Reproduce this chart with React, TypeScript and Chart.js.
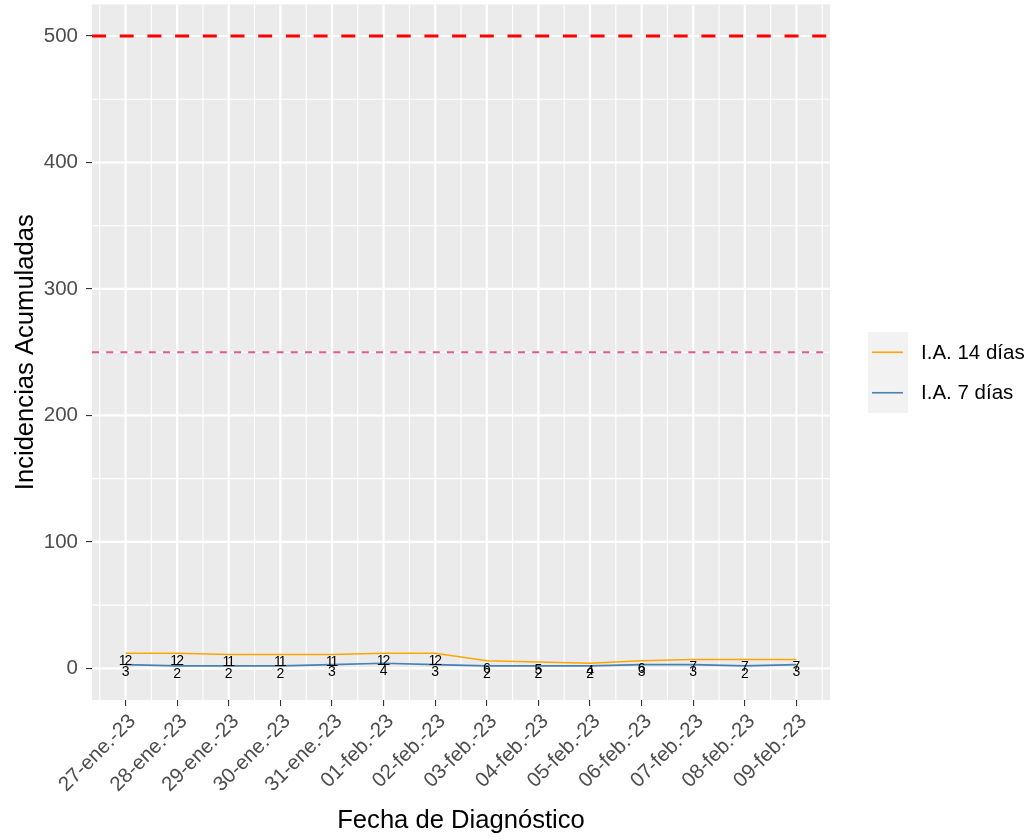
import { useEffect, useRef } from "react";
import { Chart, registerables } from "chart.js";

Chart.register(...registerables);

const dates = [
  "27-ene.-23", "28-ene.-23", "29-ene.-23", "30-ene.-23", "31-ene.-23",
  "01-feb.-23", "02-feb.-23", "03-feb.-23", "04-feb.-23", "05-feb.-23",
  "06-feb.-23", "07-feb.-23", "08-feb.-23", "09-feb.-23",
];
const ia14 = [12, 12, 11, 11, 11, 12, 12, 6, 5, 4, 6, 7, 7, 7];
const ia7 = [3, 2, 2, 2, 3, 4, 3, 2, 2, 2, 3, 3, 2, 3];
const yTicks = [0, 100, 200, 300, 400, 500];
const yMinor = [50, 150, 250, 350, 450];
const refHigh = 500;
const refMid = 250;
const seriesNames = ["I.A. 14 días", "I.A. 7 días"];
const seriesColors = ["#FFA500", "#4682B4"];

const FONT = "'Liberation Sans', Arial, sans-serif";

export default function App() {
  const ref = useRef<HTMLCanvasElement | null>(null);

  useEffect(() => {
    const canvas = ref.current;
    if (!canvas) return;

    const panelPlugin = {
      id: "panel",
      beforeDraw(chart: any) {
        const { ctx, chartArea: a, scales } = chart;
        const xs = scales.x;
        const ys = scales.y;
        ctx.save();
        ctx.fillStyle = "#EBEBEB";
        ctx.fillRect(a.left, a.top, a.right - a.left, a.bottom - a.top);
        ctx.strokeStyle = "#FFFFFF";
        // minor grid
        ctx.lineWidth = 1.1;
        for (let i = -1; i < dates.length; i++) {
          const px = xs.getPixelForValue(i + 0.5);
          if (px < a.left || px > a.right) continue;
          ctx.beginPath();
          ctx.moveTo(px, a.top);
          ctx.lineTo(px, a.bottom);
          ctx.stroke();
        }
        for (const v of yMinor) {
          const py = ys.getPixelForValue(v);
          ctx.beginPath();
          ctx.moveTo(a.left, py);
          ctx.lineTo(a.right, py);
          ctx.stroke();
        }
        // major grid
        ctx.lineWidth = 2.2;
        for (let i = 0; i < dates.length; i++) {
          const px = xs.getPixelForValue(i);
          ctx.beginPath();
          ctx.moveTo(px, a.top);
          ctx.lineTo(px, a.bottom);
          ctx.stroke();
        }
        for (const v of yTicks) {
          const py = ys.getPixelForValue(v);
          ctx.beginPath();
          ctx.moveTo(a.left, py);
          ctx.lineTo(a.right, py);
          ctx.stroke();
        }
        // reference lines
        let py = ys.getPixelForValue(refMid);
        ctx.strokeStyle = "#DE5A96";
        ctx.lineWidth = 2;
        ctx.setLineDash([7, 7.2]);
        ctx.beginPath();
        ctx.moveTo(a.left, py);
        ctx.lineTo(a.right, py);
        ctx.stroke();
        py = ys.getPixelForValue(refHigh);
        ctx.strokeStyle = "#FF0000";
        ctx.lineWidth = 3;
        ctx.setLineDash([14, 13.7]);
        ctx.beginPath();
        ctx.moveTo(a.left, py);
        ctx.lineTo(a.right, py);
        ctx.stroke();
        ctx.restore();
      },
      afterDatasetsDraw(chart: any) {
        const { ctx, scales } = chart;
        const xs = scales.x;
        const ys = scales.y;
        ctx.save();
        ctx.fillStyle = "#000000";
        ctx.font = `14px ${FONT}`;
        ctx.textAlign = "center";
        ctx.textBaseline = "middle";
        (ctx as any).letterSpacing = "-2px";
        const sets = [ia14, ia7];
        for (const arr of sets) {
          arr.forEach((v, i) => {
            const px = xs.getPixelForValue(i);
            const py = ys.getPixelForValue(v);
            ctx.fillText(String(v), px - 1, py + 8);
          });
        }
        ctx.restore();
      },
      afterDraw(chart: any) {
        const { ctx, chartArea: a } = chart;
        ctx.save();
        ctx.fillStyle = "#000000";
        ctx.font = `25.6px ${FONT}`;
        ctx.textAlign = "center";
        ctx.textBaseline = "alphabetic";
        ctx.fillText("Fecha de Diagnóstico", (a.left + a.right) / 2, 828);
        ctx.save();
        ctx.translate(33, (a.top + a.bottom) / 2);
        ctx.rotate(-Math.PI / 2);
        ctx.fillText("Incidencias Acumuladas", 0, 0);
        ctx.restore();

        // legend
        const lx = 868;
        const ly = 332;
        const kh = 40.5;
        ctx.fillStyle = "#F2F2F2";
        ctx.fillRect(lx, ly, 40, kh * 2);
        ctx.font = `20.5px ${FONT}`;
        ctx.textAlign = "left";
        ctx.textBaseline = "middle";
        seriesNames.forEach((name, k) => {
          const cy = ly + kh * k + kh / 2;
          ctx.strokeStyle = seriesColors[k];
          ctx.lineWidth = 1.6;
          ctx.beginPath();
          ctx.moveTo(lx + 4, cy);
          ctx.lineTo(lx + 35, cy);
          ctx.stroke();
          ctx.fillStyle = "#000000";
          ctx.fillText(name, 921, cy + 1);
        });
        ctx.restore();
      },
    };

    const chart = new Chart(canvas, {
      type: "line",
      data: {
        datasets: [
          {
            label: seriesNames[1],
            data: ia7.map((v, i) => ({ x: i, y: v })),
            borderColor: seriesColors[1],
            borderWidth: 1.6,
            pointRadius: 0,
            tension: 0,
          },
          {
            label: seriesNames[0],
            data: ia14.map((v, i) => ({ x: i, y: v })),
            borderColor: seriesColors[0],
            borderWidth: 1.6,
            pointRadius: 0,
            tension: 0,
          },
        ],
      },
      options: {
        responsive: false,
        animation: false,
        events: [],
        layout: { padding: { left: 0, right: 197, top: 4.4, bottom: 0 } },
        plugins: {
          legend: { display: false },
          tooltip: { enabled: false },
        },
        scales: {
          x: {
            type: "linear",
            min: -0.65,
            max: dates.length - 1 + 0.65,
            afterBuildTicks: (scale: any) => {
              scale.ticks = dates.map((_, i) => ({ value: i }));
            },
            afterFit: (scale: any) => {
              scale.height = 140;
              scale.paddingLeft = 0;
              scale.paddingRight = 0;
            },
            border: { display: false },
            grid: {
              display: true,
              drawOnChartArea: false,
              drawTicks: true,
              tickLength: 6,
              tickColor: "#333333",
              lineWidth: 1.1,
            },
            ticks: {
              autoSkip: false,
              minRotation: 45,
              maxRotation: 45,
              padding: 5,
              labelOffset: 7,
              color: "#4D4D4D",
              font: { family: FONT, size: 20.5, lineHeight: 1 },
              callback: (v: any) => dates[Math.round(Number(v))] ?? "",
            },
          },
          y: {
            type: "linear",
            min: -25,
            max: 525,
            afterBuildTicks: (scale: any) => {
              scale.ticks = yTicks.map((v) => ({ value: v }));
            },
            afterFit: (scale: any) => {
              scale.width = 92;
              scale.paddingTop = 0;
              scale.paddingBottom = 0;
            },
            border: { display: false },
            grid: {
              display: true,
              drawOnChartArea: false,
              drawTicks: true,
              tickLength: 6,
              tickColor: "#333333",
              lineWidth: 1.1,
            },
            ticks: {
              padding: 8,
              color: "#4D4D4D",
              font: { family: FONT, size: 20.5 },
              callback: (v: any) => String(v),
            },
          },
        },
      },
      plugins: [panelPlugin],
    } as any);

    return () => chart.destroy();
  }, []);

  return (
    <div style={{ position: "fixed", left: 0, top: 0, width: 1027, height: 840, background: "#FFFFFF" }}>
      <canvas ref={ref} width={1027} height={840} style={{ display: "block" }} />
    </div>
  );
}
